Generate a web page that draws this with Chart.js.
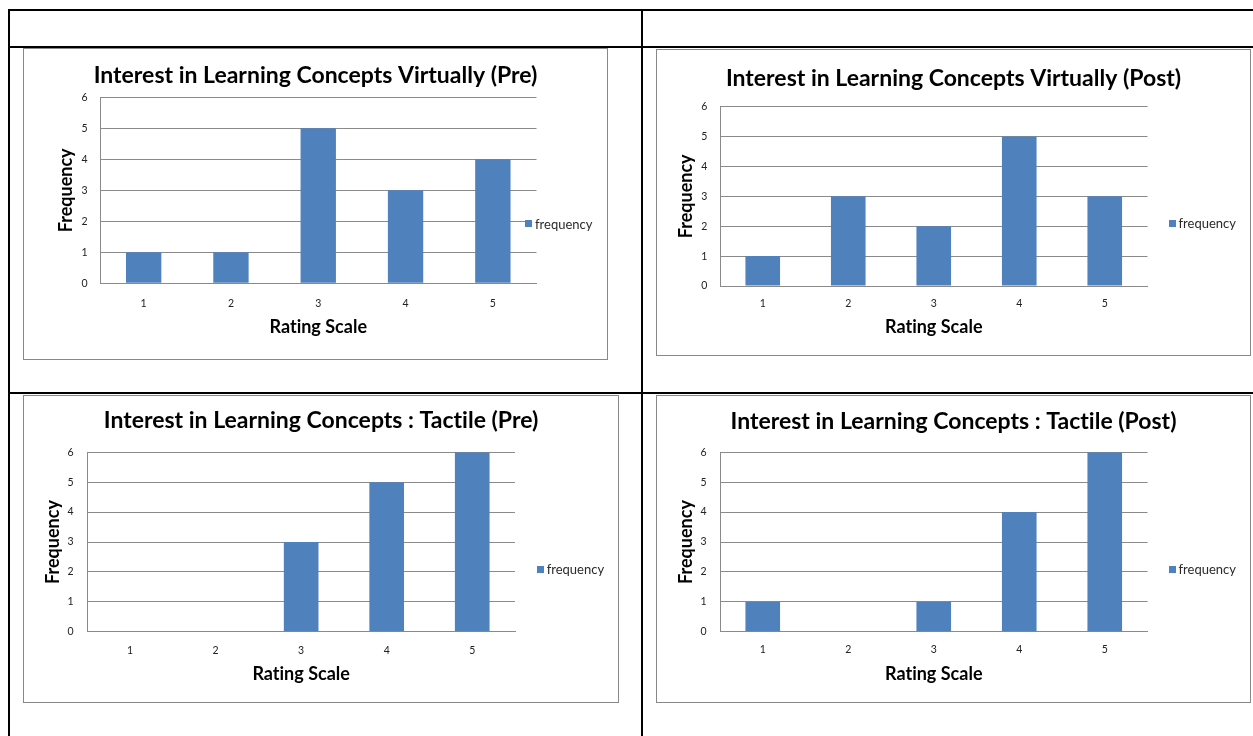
<!DOCTYPE html>
<html>
<head>
<meta charset="utf-8">
<script src="https://cdn.jsdelivr.net/npm/chart.js@4.4.1/dist/chart.umd.min.js"></script>
<style>
  html, body { margin: 0; padding: 0; background: #fff; }
  body { width: 1253px; height: 736px; position: relative; overflow: hidden; font-family: Lato, sans-serif; }
  .rule { position: absolute; background: #000; }
  .box { position: absolute; border: 1px solid #888; box-sizing: border-box; background: #fff; }
  canvas { position: absolute; }
  .legend { position: absolute; height: 14px; display: flex; align-items: center; background: #fff;
            font: 13px Lato, sans-serif; color: #2a2a2a; padding-right: 2px; white-space: nowrap;
            font-variant-ligatures: none; }
  .legend i { display: inline-block; width: 7px; height: 7px; margin-right: 3px; }
</style>
</head>
<body>
<script>
// ---- data ----
const ratingLabels = ['1', '2', '3', '4', '5'];
const virtualPre  = [1, 1, 5, 3, 4];
const virtualPost = [1, 3, 2, 5, 3];
const tactilePre  = [0, 0, 3, 5, 6];
const tactilePost = [1, 0, 1, 4, 6];
const seriesName = 'frequency';
const yMax = 6;
const chartTitles = [
  'Interest in Learning Concepts Virtually (Pre)',
  'Interest in Learning Concepts Virtually (Post)',
  'Interest in Learning Concepts : Tactile (Pre)',
  'Interest in Learning Concepts : Tactile (Post)'
];
const xAxisTitle = 'Rating Scale';
const yAxisTitle = 'Frequency';

// ---- styling ----
const BAR_COLOR = '#4F81BD';
const GRID_COLOR = '#8a8a8a';
const FONT = 'Lato';
const TITLE_SIZE = 23;
const AXIS_TITLE_SIZE = 18;
const TICK_SIZE = 10.5;

// keep letter pairs such as "ti" as separate glyphs
const plainText = {
  id: 'plainText',
  beforeDraw(chart) { chart.ctx.textRendering = 'optimizeSpeed'; }
};

// ---- page grid (table rules) ----
const rules = [
  { x: 8, y: 9, w: 1245, h: 2 },
  { x: 8, y: 46, w: 1245, h: 2 },
  { x: 8, y: 392, w: 1245, h: 2 },
  { x: 8, y: 9, w: 2, h: 727 },
  { x: 641, y: 9, w: 2, h: 727 }
];
rules.forEach(r => {
  const d = document.createElement('div');
  d.className = 'rule';
  Object.assign(d.style, { left: r.x + 'px', top: r.y + 'px', width: r.w + 'px', height: r.h + 'px' });
  document.body.appendChild(d);
});

// ---- panel geometry (page pixels) ----
const panels = [
  { box: { x: 23, y: 48, w: 585, h: 312 }, plot: { l: 100, t: 97.3, r: 536.5, b: 283.3 },
    titleY: 76, xTitleY: 327.3, yTitleX: 66, yTickGap: 12.5, xTickGap: 14, legend: { x: 525, y: 223.7 } },
  { box: { x: 656, y: 49, w: 595, h: 307 }, plot: { l: 720, t: 106.7, r: 1147.5, b: 286 },
    titleY: 78.3, xTitleY: 327.3, yTitleX: 686, yTickGap: 12.7, xTickGap: 11.3, legend: { x: 1168.5, y: 223.3 } },
  { box: { x: 23, y: 395, w: 596, h: 308 }, plot: { l: 87.3, t: 452.3, r: 515, b: 631.7 },
    titleY: 421, xTitleY: 674.6, yTitleX: 53.5, yTickGap: 13.8, xTickGap: 13, legend: { x: 536.7, y: 569.3 } },
  { box: { x: 656, y: 395, w: 595, h: 308 }, plot: { l: 720, t: 452.3, r: 1147.5, b: 631.7 },
    titleY: 421.6, xTitleY: 674.6, yTitleX: 686, yTickGap: 13.5, xTickGap: 11.6, legend: { x: 1168.5, y: 569.3 } }
];
const panelSeries = [virtualPre, virtualPost, tactilePre, tactilePost];

function buildPanel(p, title, values) {
  const { box, plot } = p;
  const frame = document.createElement('div');
  frame.className = 'box';
  Object.assign(frame.style, { left: box.x + 'px', top: box.y + 'px', width: box.w + 'px', height: box.h + 'px' });
  document.body.appendChild(frame);

  const cv = document.createElement('canvas');
  cv.width = box.w; cv.height = box.h;
  Object.assign(cv.style, { left: box.x + 'px', top: box.y + 'px' });
  document.body.appendChild(cv);

  const titleLH = TITLE_SIZE * 1.2;
  const axisLH = AXIS_TITLE_SIZE * 1.2;
  const tickFont = { family: FONT, size: TICK_SIZE };
  const axisFont = { family: FONT, size: AXIS_TITLE_SIZE, weight: 'bold', lineHeight: 1.2 };

  const chart = new Chart(cv, {
    type: 'bar',
    plugins: [plainText],
    data: {
      labels: ratingLabels,
      datasets: [{
        label: seriesName,
        data: values,
        backgroundColor: BAR_COLOR,
        borderWidth: 0,
        categoryPercentage: 1,
        barPercentage: 0.405
      }]
    },
    options: {
      responsive: false,
      animation: false,
      devicePixelRatio: 1,
      layout: { padding: 0 },
      plugins: {
        legend: { display: false },
        tooltip: { enabled: false },
        title: {
          display: true,
          text: title,
          color: '#000',
          font: { family: FONT, size: TITLE_SIZE, weight: 'bold', lineHeight: 1.2 },
          padding: { top: p.titleY - box.y - titleLH / 2, bottom: plot.t - p.titleY - titleLH / 2 }
        }
      },
      scales: {
        x: {
          grid: { display: true, drawOnChartArea: false, drawTicks: false },
          border: { display: true, color: GRID_COLOR, width: 1 },
          ticks: { font: tickFont, color: '#222', padding: p.xTickGap },
          title: {
            display: true, text: xAxisTitle, color: '#000', font: axisFont,
            padding: { top: 0, bottom: box.y + box.h - p.xTitleY - axisLH / 2 }
          },
          afterFit(s) { s.height = box.y + box.h - plot.b; }
        },
        y: {
          min: 0, max: yMax,
          grid: { color: GRID_COLOR, lineWidth: 1, drawTicks: false },
          border: { display: true, color: GRID_COLOR, width: 1 },
          ticks: { stepSize: 1, font: tickFont, color: '#222', padding: p.yTickGap },
          title: {
            display: true, text: yAxisTitle, color: '#000', font: axisFont,
            padding: { top: p.yTitleX - box.x - axisLH / 2, bottom: 0 }
          },
          afterFit(s) { s.width = plot.l - box.x; }
        },
        // empty strip on the right that the legend sits in
        gutter: {
          type: 'linear', position: 'right', display: true,
          grid: { display: false }, border: { display: false }, ticks: { display: false },
          afterFit(s) { s.width = box.x + box.w - plot.r; }
        }
      }
    }
  });

  // series key beside the plot
  const items = chart.options.plugins.legend.labels.generateLabels(chart);
  items.forEach(item => {
    const lg = document.createElement('div');
    lg.className = 'legend';
    Object.assign(lg.style, { left: p.legend.x + 'px', top: (p.legend.y - 7) + 'px' });
    const sw = document.createElement('i');
    sw.style.background = item.fillStyle;
    lg.appendChild(sw);
    lg.appendChild(document.createTextNode(item.text));
    document.body.appendChild(lg);
  });
}

panels.forEach((p, i) => buildPanel(p, chartTitles[i], panelSeries[i]));
</script>
</body>
</html>
